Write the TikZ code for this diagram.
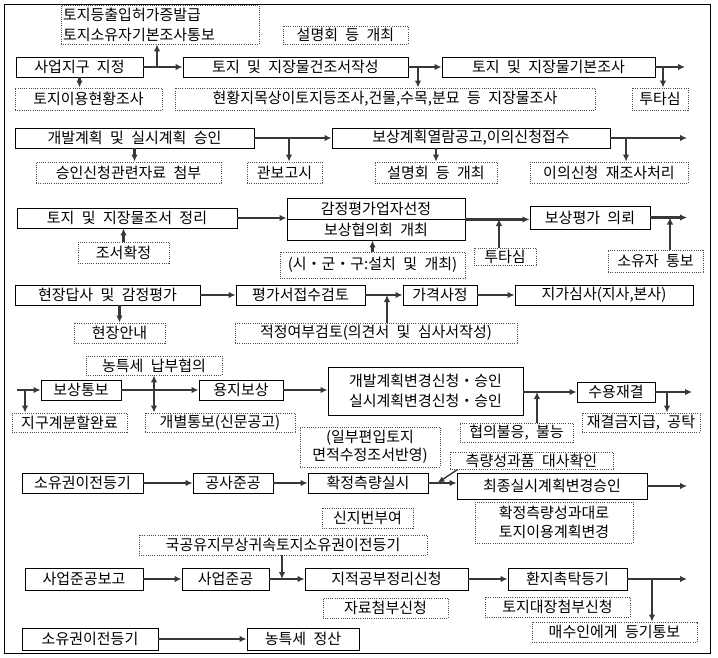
\documentclass[tikz,border=0pt]{standalone}
\usepackage{fontspec}
\setmainfont{Noto Sans CJK KR}[WordSpace=2.2]
\usetikzlibrary{arrows.meta}
\newcommand\mybox[7]{\node[#1,minimum width={#4-#2},minimum height={#5-#3}] (#6) at ({(#2+#4)/2},{(#3+#5)/2}) {#7};}
\tikzset{
 base/.style={inner sep=0pt, font=\fontsize{15}{20}\selectfont, align=center},
 ls/.style={font=\fontsize{15}{18.5}\selectfont},
 sbox/.style={base, draw=black, line width=0.9pt},
 dbox/.style={base, draw=black!70, line width=0.9pt, dash pattern=on 1pt off 1.2pt},
 arr/.style={draw=black!78, line width=2.2pt, -{Latex[length=7pt,width=6.5pt]}},
 arrb/.style={draw=black!78, line width=2.2pt, {Latex[length=7pt,width=6.5pt]}-{Latex[length=7pt,width=6.5pt]}},
 arrt/.style={draw=black!78, line width=1.4pt, -{Latex[length=7pt,width=6pt]}},
}
\begin{document}
\begin{tikzpicture}[x=1pt,y=-1pt]
\useasboundingbox (0,0) rectangle (718,658);
\draw[line width=0.9pt] (4,4) rectangle (710,653);
% ---------- row 1
\mybox{sbox}{16}{57}{143}{77}{n11}{사업지구 지정}
\mybox{sbox}{183}{57}{408}{77}{n12}{토지 및 지장물건조서작성}
\mybox{sbox}{442}{57}{655}{77}{n13}{토지 및 지장물기본조사}
\mybox{dbox,text width=194pt,align=left}{61}{5}{259}{44}{d11}{토지등출입허가증발급\\토지소유자기본조사통보}
\mybox{dbox}{283}{26}{408}{44}{d12}{설명회 등 개최}
\mybox{dbox}{15}{88}{162}{110}{d13}{토지이용현황조사}
\mybox{dbox}{175}{88}{595}{110}{d14}{현황지목상이토지등조사,건물,수목,분묘 등 지장물조사}
\mybox{dbox}{632}{88}{688}{110}{d15}{투타심}
\coordinate (j11) at (157,67);
\coordinate (j12) at (418,67);
\coordinate (j13) at (663,67);
\coordinate (e13) at (685,67);
\draw[arr] (n11.east) -- (n12.west);
\draw[arr] (j11) -- (j11 |- d11.south);
\draw[arr] (n11.south) -- (n11.south |- d13.north);
\draw[arr] (n12.east) -- (n13.west);
\draw[arr] (j12) -- (j12 |- d14.north);
\draw[arr] (n13.east) -- (e13);
\draw[arr] (j13) -- (j13 |- d15.north);
% ---------- row 2
\mybox{sbox}{15}{128}{254}{148}{n21}{개발계획 및 실시계획 승인}
\mybox{sbox}{332}{128}{610}{148}{n22}{보상계획열람공고,이의신청접수}
\mybox{dbox}{36}{162}{221}{183}{d21}{승인신청관련자료 첨부}
\mybox{dbox}{247}{162}{322}{183}{d22}{관보고시}
\mybox{dbox}{375}{162}{497}{183}{d23}{설명회 등 개최}
\mybox{dbox}{530}{162}{688}{183}{d24}{이의신청 재조사처리}
\coordinate (j21) at (289,138);
\coordinate (j22) at (626,138);
\coordinate (e22) at (687,138);
\draw[arr] (n21.east) -- (n22.west);
\draw[arr] (j21) -- (j21 |- d22.north);
\draw[arr] (n21.south) -- (n21.south |- d21.north);
\draw[arr] (d23.north |- n22.south) -- (d23.north);
\draw[arr] (n22.east) -- (e22);
\draw[arr] (j22) -- (j22 |- d24.north);
% ---------- row 3
\mybox{sbox}{17}{208}{237}{228}{n31}{토지 및 지장물조서 정리}
\mybox{sbox}{287}{198}{465}{219}{n32a}{감정평가업자선정}
\mybox{sbox}{287}{219}{465}{240}{n32b}{보상협의회 개최}
\mybox{sbox}{530}{206}{650}{229}{n33}{보상평가 의뢰}
\mybox{dbox}{78}{242}{169}{263}{d31}{조서확정}
\mybox{dbox}{280}{252}{465}{278}{d32}{(시・군・구:설치 및 개최)}
\mybox{dbox}{474}{248}{536}{265}{d33}{투타심}
\mybox{dbox}{608}{250}{703}{272}{d34}{소유자 통보}
\coordinate (j31) at (499,219);
\coordinate (j33) at (670,217.5);
\coordinate (e33) at (687,217.5);
\draw[arr] (n31.east) -- (n31.east -| n32a.west);
\draw[arr] (d31.north) -- (d31.north |- n31.south);
\draw[arr] (d32.north) -- (d32.north |- n32b.south);
\draw[arr] (n32a.south east) -- (n32a.south east -| n33.west);
\draw[arr] (j31 |- d33.north) -- (j31);
\draw[arr] (n33.east) -- (e33);
\draw[arr] (j33 |- d34.north) -- (j33);
% ---------- row 4
\mybox{sbox}{15}{285}{200}{305}{n41}{현장답사 및 감정평가}
\mybox{sbox}{236}{285}{365}{305}{n42}{평가서접수검토}
\mybox{sbox}{403}{285}{477}{305}{n43}{가격사정}
\mybox{sbox}{515}{285}{693}{305}{n44}{지가심사(지사,본사)}
\mybox{dbox}{74}{323}{165}{343}{d41}{현장안내}
\mybox{dbox}{235}{323}{517}{343}{d42}{적정여부검토(의견서 및 심사서작성)}
\coordinate (j41) at (387,295);
\draw[arr] (n41.east) -- (n42.west);
\draw[arr] (n42.east) -- (n43.west);
\draw[arr] (j41 |- d42.north) -- (j41);
\draw[arr] (n43.east) -- (n44.west);
\draw[arr] (d41.north |- n41.south) -- (d41.north);
% ---------- row 5
\mybox{dbox}{86}{356}{222}{375}{d51}{농특세 납부협의}
\mybox{sbox}{41}{380}{121}{400}{n51}{보상통보}
\mybox{dbox}{12}{413}{127}{432}{d52}{지구계분할완료}
\mybox{dbox}{145}{413}{295}{432}{d53}{개별통보(신문공고)}
\mybox{sbox}{199}{380}{283}{400}{n52}{용지보상}
\mybox{sbox}{328}{367}{523}{415}{n53}{개발계획변경신청・승인\\실시계획변경신청・승인}
\mybox{sbox}{577}{382}{655}{402}{n54}{수용재결}
\mybox{dbox}{460}{423}{573}{442}{d54}{협의불응, 불능}
\mybox{dbox}{582}{413}{700}{432}{d55}{재결금지급, 공탁}
\mybox{dbox,ls}{300}{427}{440}{467}{d56}{(일부편입토지\\면적수정조서반영)}
\coordinate (s51) at (17,390);
\coordinate (j51) at (25,390);
\coordinate (j52) at (154,390);
\coordinate (j53) at (537,392);
\coordinate (j54) at (667,392);
\coordinate (e54) at (692,392);
\draw[arr] (s51) -- (n51.west);
\draw[arr] (j51) -- (j51 |- d52.north);
\draw[arr] (n51.east) -- (n52.west);
\draw[arrb] (j52 |- d51.south) -- (j52 |- d53.north);
\draw[arr] (n52.east) -- (n52.east -| n53.west);
\draw[arr] (n53.east |- n54.west) -- (n54.west);
\draw[arr] (j53 |- d54.north) -- (j53);
\draw[arr] (n54.east) -- (e54);
\draw[arr] (j54) -- (j54 |- d55.north);
% ---------- row 6
\mybox{dbox}{450}{452}{613}{469}{d61}{측량성과품 대사확인}
\mybox{sbox}{22}{473}{143}{493}{n61}{소유권이전등기}
\mybox{sbox}{193}{473}{273}{493}{n62}{공사준공}
\mybox{sbox}{308}{473}{428}{493}{n63}{확정측량실시}
\mybox{sbox}{457}{473}{647}{499}{n64}{최종실시계획변경승인}
\mybox{dbox,ls}{475}{502}{633}{543}{d62}{확정측량성과대로\\토지이용계획변경}
\mybox{dbox}{322}{508}{413}{528}{d63}{신지번부여}
\mybox{dbox}{139}{535}{427}{555}{d64}{국공유지무상귀속토지소유권이전등기}
\coordinate (e64) at (687,486);
\draw[arr] (n61.east) -- (n62.west);
\draw[arr] (n62.east) -- (n63.west);
\draw[arr] (n63.east) -- (n63.east -| n64.west);
\draw[arrt] ([xshift=8pt]d61.south west) -- ([xshift=9pt]n63.east);
\draw[arr] (n64.east) -- (e64);
% ---------- row 7
\mybox{sbox}{25}{568}{143}{590}{n71}{사업준공보고}
\mybox{sbox}{182}{568}{269}{590}{n72}{사업준공}
\mybox{sbox}{305}{568}{468}{590}{n73}{지적공부정리신청}
\mybox{sbox}{508}{568}{627}{590}{n74}{환지촉탁등기}
\mybox{dbox}{323}{598}{448}{618}{d71}{자료첨부신청}
\mybox{dbox}{485}{597}{630}{617}{d72}{토지대장첨부신청}
\mybox{dbox}{532}{622}{697}{642}{d73}{매수인에게 등기통보}
\coordinate (j71) at (282,579);
\coordinate (j72) at (652,579);
\coordinate (e74) at (687,579);
\draw[arr] (n71.east) -- (n72.west);
\draw[arr] (n72.east) -- (n73.west);
\draw[arr] (j71 |- d64.south) -- (j71);
\draw[arr] (n73.east) -- (n74.west);
\draw[arr] (n74.east) -- (e74);
\draw[arr] (j72) -- (j72 |- d73.north);
% ---------- row 8
\mybox{sbox}{22}{628}{158}{650}{n81}{소유권이전등기}
\mybox{sbox}{247}{628}{359}{650}{n82}{농특세 정산}
\draw[arr] (n81.east) -- (n82.west);
\end{tikzpicture}
\end{document}
